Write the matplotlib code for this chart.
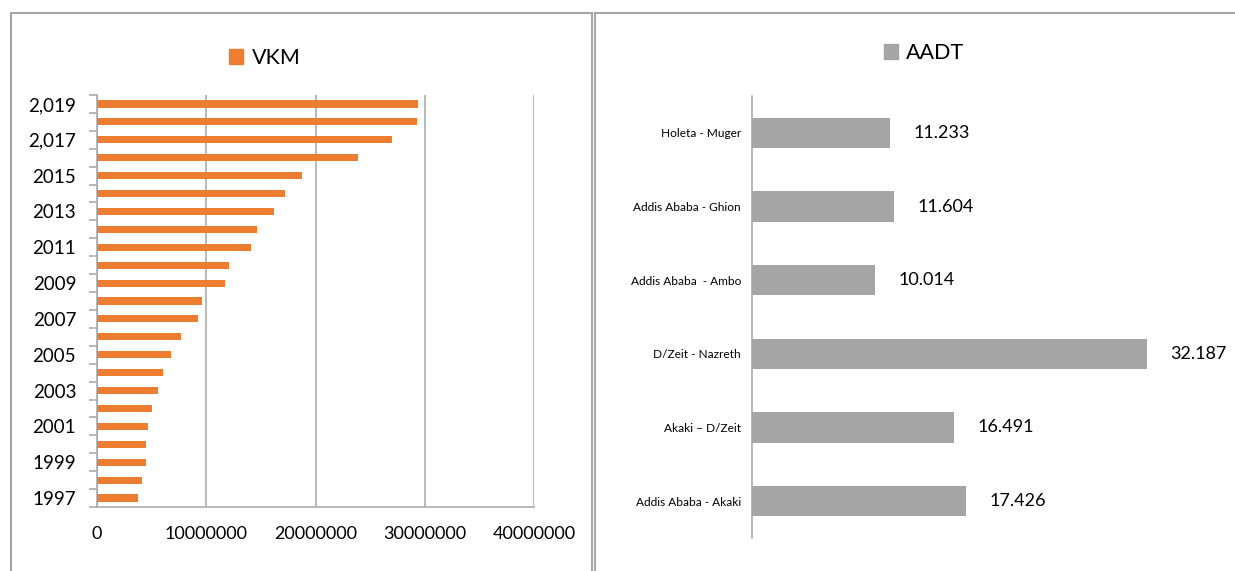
import matplotlib
matplotlib.use("Agg")
import matplotlib.pyplot as plt
from matplotlib.lines import Line2D
from matplotlib.patches import Patch

plt.rcParams['font.family'] = ['Lato', 'DejaVu Sans']

# Left chart data: vehicle km per year
years = [1997, 1998, 1999, 2000, 2001, 2002, 2003, 2004, 2005, 2006, 2007, 2008,
         2009, 2010, 2011, 2012, 2013, 2014, 2015, 2016, 2017, 2018, 2019]
vkm = [3720000, 4080000, 4450000, 4450000, 4700000, 5000000, 5550000, 6070000,
       6740000, 7650000, 9270000, 9600000, 11700000, 12100000, 14100000, 14600000,
       16200000, 17200000, 18800000, 23900000, 27000000, 29300000, 29400000]
year_labels = ['1997', '1999', '2001', '2003', '2005', '2007', '2009', '2011',
               '2013', '2015', '2,017', '2,019']
x_ticks = [0, 10000000, 20000000, 30000000, 40000000]

# Right chart data: AADT per road section (bottom to top)
sections = ['Addis Ababa - Akaki', 'Akaki \u2013 D/Zeit', 'D/Zeit - Nazreth',
            'Addis Ababa  - Ambo', 'Addis Ababa - Ghion', 'Holeta - Muger']
aadt = [17.426, 16.491, 32.187, 10.014, 11.604, 11.233]

W, H = 1235, 571
orange = '#ED7D31'
grey = '#A5A5A5'
line_grey = '#A6A6A6'

fig = plt.figure(figsize=(W / 100, H / 100), dpi=100)


def fx(px):
    return px / W


def fy(py):
    return 1 - py / H


# panel borders
for (x0, y0, x1, y1) in [(11, 13, 11, 580), (11, 13, 592, 13), (592, 13, 592, 580),
                         (595, 13, 595, 580), (595, 13, 1234, 13)]:
    fig.add_artist(Line2D([fx(x0), fx(x1)], [fy(y0), fy(y1)], color=line_grey,
                          lw=1.5, transform=fig.transFigure))

# ---- Left: VKM ----
ax1 = fig.add_axes([fx(97), fy(507), fx(534) - fx(97), fy(95) - fy(507)])
pos = list(range(len(years)))
ax1.barh(pos, vkm, height=0.4, color=orange, zorder=3)
ax1.set_ylim(-0.5, len(years) - 0.5)
ax1.set_xlim(0, 40000000)
ax1.set_xticks(x_ticks)
ax1.set_xticklabels([str(v) for v in x_ticks])
ax1.set_yticks(pos[::2])
ax1.set_yticklabels(year_labels)
ax1.set_yticks([p - 0.5 for p in range(len(years) + 1)], minor=True)
ax1.tick_params(axis='y', which='major', length=0, pad=15, labelsize=13.5)
ax1.tick_params(axis='y', which='minor', length=6, color=line_grey, width=1.1)
ax1.tick_params(axis='x', length=0, pad=14, labelsize=13)
ax1.grid(axis='x', color=line_grey, lw=1.1, zorder=0)
for s in ['top', 'right']:
    ax1.spines[s].set_visible(False)
for s in ['left', 'bottom']:
    ax1.spines[s].set_color(line_grey)
    ax1.spines[s].set_linewidth(1.1)
fig.legend(handles=[Patch(color=orange, label='VKM')], loc='center',
           bbox_to_anchor=(fx(265), fy(58)), frameon=False, fontsize=15.5,
           handlelength=0.65, handleheight=0.65, handletextpad=0.4)

# ---- Right: AADT ----
ax2 = fig.add_axes([fx(752), fy(538), 35 * 12.27 / W, fy(96) - fy(538)])
pos2 = list(range(len(sections)))
ax2.barh(pos2, aadt, height=0.41, color=grey)
ax2.set_ylim(-0.5, len(sections) - 0.5)
ax2.set_xlim(0, 35)
ax2.set_yticks(pos2)
ax2.set_yticklabels(sections)
ax2.tick_params(axis='y', length=0, pad=8, labelsize=8.6)
ax2.xaxis.set_visible(False)
for s in ['top', 'right', 'bottom']:
    ax2.spines[s].set_visible(False)
ax2.spines['left'].set_color(line_grey)
ax2.spines['left'].set_linewidth(1.1)
for p, v in zip(pos2, aadt):
    ax2.annotate(f'{v:.3f}', (v, p), xytext=(17, 0), textcoords='offset points',
                 va='center', ha='left', fontsize=13, annotation_clip=False)
fig.legend(handles=[Patch(color=grey, label='AADT')], loc='center',
           bbox_to_anchor=(fx(924), fy(53)), frameon=False, fontsize=15.5,
           handlelength=0.65, handleheight=0.65, handletextpad=0.4)

fig.savefig('out.png', dpi=100)
